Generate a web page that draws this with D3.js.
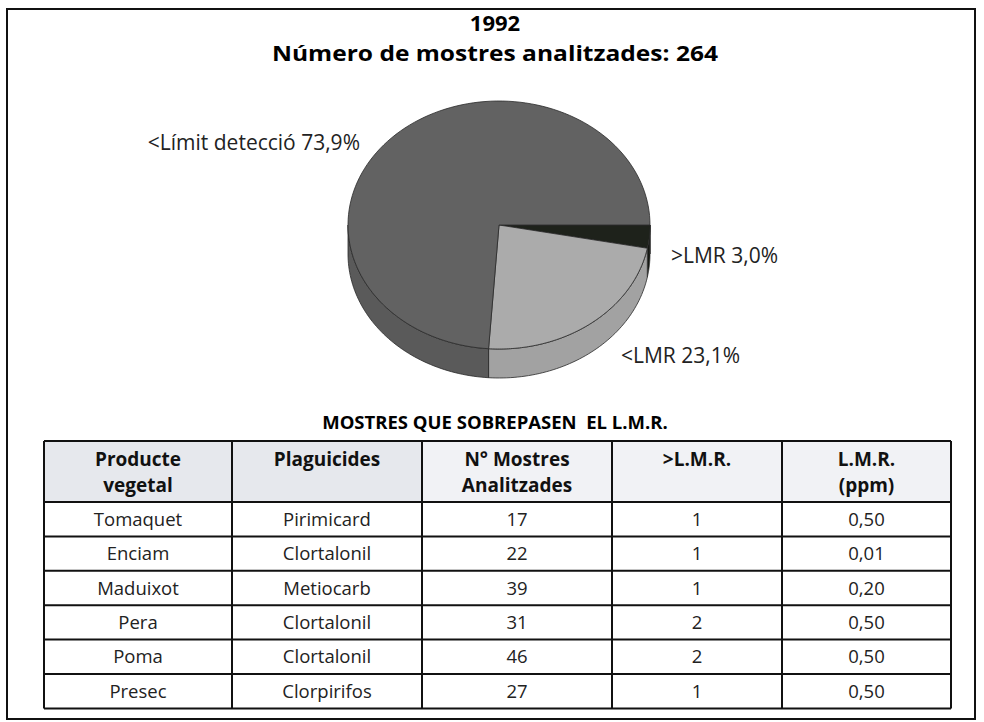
<!DOCTYPE html>
<html>
<head>
<meta charset="utf-8">
<script src="https://d3js.org/d3.v7.min.js"></script>
<title>1992 - mostres analitzades</title>
<style>
  body { margin: 0; background: #fff; }
  text { font-family: "Open Sans", "DejaVu Sans", sans-serif; }
</style>
</head>
<body>
<div id="chart"></div>
<script>

// pie data
let sliceLabels = [">LMR 3,0%", "<LMR 23,1%", "<Límit detecció 73,9%"];
let sliceValues = [3.0, 23.1, 73.9];

// table data
let tableHeaders = [["Producte", "vegetal"], ["Plaguicides"], ["N° Mostres", "Analitzades"], [">L.M.R."], ["L.M.R.", "(ppm)"]];
let productes = ["Tomaquet", "Enciam", "Maduixot", "Pera", "Poma", "Presec"];
let plaguicides = ["Pirimicard", "Clortalonil", "Metiocarb", "Clortalonil", "Clortalonil", "Clorpirifos"];
let mostres = [17, 22, 39, 31, 46, 27];
let sobreLmr = [1, 1, 1, 2, 2, 1];
let lmr = ["0,50", "0,01", "0,20", "0,50", "0,50", "0,50"];

let width = 984, height = 722;

let svg = d3.select("#chart").append("svg")
  .attr("width", width)
  .attr("height", height);

// outer frame
svg.append("rect")
  .attr("x", 7).attr("y", 9)
  .attr("width", 968).attr("height", 710)
  .attr("fill", "none").attr("stroke", "#111").attr("stroke-width", 2);

// titles
svg.append("text")
  .attr("x", 495).attr("y", 31)
  .attr("text-anchor", "middle")
  .attr("font-size", 22).attr("font-weight", "bold")
  .text("1992");
svg.append("text")
  .attr("x", 495).attr("y", 61)
  .attr("text-anchor", "middle")
  .attr("font-size", 22).attr("font-weight", "bold")
  .attr("textLength", 446).attr("lengthAdjust", "spacingAndGlyphs")
  .text("Número de mostres analitzades: 264");

// ---- 3D pie ----
let cx = 499, cy = 225, rx = 151, ry = 124, depth = 29;
let topColors = ["#1e221b", "#ababab", "#626262"];
let sideColors = ["#151812", "#a2a2a2", "#5a5a5a"];

// start at east, go clockwise (d3 angles start at 12 o'clock)
let pie = d3.pie().sort(null).startAngle(Math.PI / 2).endAngle(Math.PI / 2 + 2 * Math.PI);
let arcs = pie(sliceValues);

function pt(t, dy) {
  return [cx + rx * Math.cos(t), cy + dy + ry * Math.sin(t)];
}

function ellArc(t0, t1, dy, steps) {
  let pts = [];
  for (let i = 0; i <= steps; i++) {
    let t = t0 + (t1 - t0) * i / steps;
    pts.push(pt(t, dy));
  }
  return pts;
}

let line = d3.line();

// side walls (front half only: 0..PI)
let sides = svg.append("g");
arcs.forEach(function (a, i) {
  let t0 = a.startAngle - Math.PI / 2, t1 = a.endAngle - Math.PI / 2;
  [[0, Math.PI], [2 * Math.PI, 3 * Math.PI]].forEach(function (r) {
    let s = Math.max(t0, r[0]), e = Math.min(t1, r[1]);
    if (e <= s) return;
    let upper = ellArc(s, e, 0, 60);
    let lower = ellArc(e, s, depth, 60);
    sides.append("path")
      .attr("d", line(upper.concat(lower)) + "Z")
      .attr("fill", sideColors[i])
      .attr("stroke", "#2a2a2a").attr("stroke-width", 0.8);
  });
});

// top faces
let tops = svg.append("g");
arcs.forEach(function (a, i) {
  let t0 = a.startAngle - Math.PI / 2, t1 = a.endAngle - Math.PI / 2;
  let pts = [[cx, cy]].concat(ellArc(t0, t1, 0, 120));
  tops.append("path")
    .attr("d", line(pts) + "Z")
    .attr("fill", topColors[i])
    .attr("stroke", "#2a2a2a").attr("stroke-width", 0.8);
});

// pie labels
let labelPos = [[671, 263, "start"], [621, 363, "start"], [360, 150, "end"]];
svg.append("g").selectAll("text")
  .data(sliceLabels)
  .enter().append("text")
  .attr("x", (d, i) => labelPos[i][0])
  .attr("y", (d, i) => labelPos[i][1])
  .attr("text-anchor", (d, i) => labelPos[i][2])
  .attr("font-size", 21)
  .attr("fill", "#222")
  .text(d => d);

// ---- table ----
svg.append("text")
  .attr("x", 495).attr("y", 429)
  .attr("text-anchor", "middle")
  .attr("font-size", 18.5).attr("font-weight", "bold")
  .attr("xml:space", "preserve")
  .text("MOSTRES QUE SOBREPASEN  EL L.M.R.");

let colEdges = [44, 232, 422, 612, 782, 951];
let tableTop = 441, headerH = 61, rowH = 34.4;

let rows = productes.map(function (p, i) {
  return [p, plaguicides[i], String(mostres[i]), String(sobreLmr[i]), lmr[i]];
});

let x = d3.scaleOrdinal().domain(d3.range(5)).range(colEdges.slice(0, 5));
let y = d3.scaleLinear().domain([0, rows.length]).range([tableTop + headerH, tableTop + headerH + rowH * rows.length]);

let tbl = svg.append("g");

// header background
tbl.selectAll("rect.hdr")
  .data(tableHeaders)
  .enter().append("rect")
  .attr("class", "hdr")
  .attr("x", (d, i) => x(i))
  .attr("y", tableTop)
  .attr("width", (d, i) => colEdges[i + 1] - colEdges[i])
  .attr("height", headerH)
  .attr("fill", (d, i) => i < 2 ? "#e6e8ed" : "#f1f2f5");

// header text
tbl.selectAll("text.hdr")
  .data(tableHeaders)
  .enter().append("text")
  .attr("class", "hdr")
  .attr("text-anchor", "middle")
  .attr("font-size", 19).attr("font-weight", "bold")
  .attr("fill", "#111")
  .each(function (d, i) {
    let t = d3.select(this);
    d.forEach(function (s, j) {
      t.append("tspan")
        .attr("x", (colEdges[i] + colEdges[i + 1]) / 2)
        .attr("y", tableTop + 25 + j * 26)
        .text(s);
    });
  });

// body text
tbl.selectAll("g.row")
  .data(rows)
  .enter().append("g")
  .attr("class", "row")
  .selectAll("text")
  .data((d, r) => d.map((v, c) => ({ v: v, r: r, c: c })))
  .enter().append("text")
  .attr("x", d => (colEdges[d.c] + colEdges[d.c + 1]) / 2)
  .attr("y", d => y(d.r) + rowH / 2 + 6.5)
  .attr("text-anchor", "middle")
  .attr("font-size", 18.5)
  .attr("fill", "#222")
  .text(d => d.v);

// grid lines
let tableBottom = y(rows.length);
tbl.selectAll("line.h")
  .data([tableTop].concat(d3.range(rows.length + 1).map(r => y(r))))
  .enter().append("line")
  .attr("x1", colEdges[0]).attr("x2", colEdges[5])
  .attr("y1", d => d).attr("y2", d => d)
  .attr("stroke", "#111").attr("stroke-width", 2);
tbl.selectAll("line.v")
  .data(colEdges)
  .enter().append("line")
  .attr("x1", d => d).attr("x2", d => d)
  .attr("y1", tableTop).attr("y2", tableBottom)
  .attr("stroke", "#111").attr("stroke-width", 2);

</script>
</body>
</html>
